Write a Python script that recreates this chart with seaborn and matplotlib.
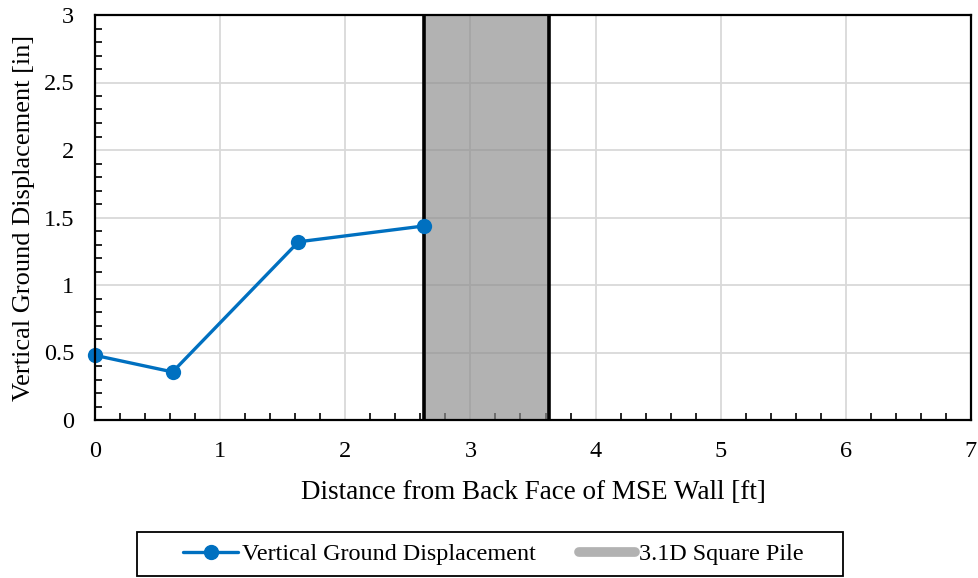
import numpy as np
import pandas as pd
import seaborn as sns
import matplotlib.pyplot as plt
from matplotlib.ticker import MultipleLocator
from matplotlib.lines import Line2D
from matplotlib.patches import Rectangle

# data
distance_ft = [0.0, 0.62, 1.626, 2.626]
displacement_in = [0.479, 0.356, 1.32, 1.437]
pile_left = 2.626
pile_right = 3.626

df = pd.DataFrame({"Distance": distance_ft, "Displacement": displacement_in})

sns.set_theme(style="whitegrid")
plt.rcParams['font.family'] = ['Liberation Serif', 'DejaVu Serif']
plt.rcParams['text.color'] = 'black'
plt.rcParams['axes.labelcolor'] = 'black'

blue = "#0070C0"
grey = "#b2b2b2"

fig = plt.figure(figsize=(9.79, 5.78), dpi=100)
ax = fig.add_axes([95 / 979, 1 - 420 / 578, (971 - 95) / 979, (420 - 15) / 578])

# pile band (semi transparent so the grid shows through a bit darker)
ax.axvspan(pile_left, pile_right, color="#8e8e8e", alpha=0.684, zorder=1.5, lw=0)
ax.axvline(pile_left, color="black", lw=2.6, zorder=3)
ax.axvline(pile_right, color="black", lw=2.6, zorder=3)

sns.lineplot(data=df, x="Distance", y="Displacement", ax=ax, color=blue,
             lw=2.4, marker="o", markersize=11, markeredgewidth=0, zorder=4,
             clip_on=False)

ax.set_xlim(0, 7)
ax.set_ylim(0, 3)
ax.xaxis.set_major_locator(MultipleLocator(1))
ax.xaxis.set_minor_locator(MultipleLocator(0.2))
ax.yaxis.set_minor_locator(MultipleLocator(0.1))
ax.set_yticks([0, 0.5, 1, 1.5, 2, 2.5, 3])
ax.set_yticklabels(["0", "0.5", "1", "1.5", "2", "2.5", "3"])

ax.grid(True, which="major", color="#d9d9d9", lw=1.3)
ax.grid(False, which="minor")
ax.set_axisbelow(True)

for s in ax.spines.values():
    s.set_visible(True)
    s.set_color("black")
    s.set_linewidth(1.6)
    s.set_zorder(5)

ax.tick_params(axis="both", which="major", direction="in", length=0,
               labelsize=17.5, labelcolor="black")
ax.tick_params(axis="y", which="major", pad=15)
ax.tick_params(axis="x", which="major", pad=15)
ax.tick_params(axis="x", which="minor", direction="in", length=5, width=1.2,
               color="black", bottom=True)
ax.tick_params(axis="y", which="minor", direction="in", length=5, width=1.2,
               color="black", left=True)

ax.set_xlabel("Distance from Back Face of MSE Wall [ft]", fontsize=19.5, labelpad=13)
ax.set_ylabel("Vertical Ground Displacement [in]", fontsize=19, labelpad=6)

handles = [
    Line2D([0], [0], color=blue, lw=2.4, marker="o", markersize=10),
    Line2D([0], [0], color=grey, lw=7, solid_capstyle="round"),
]
leg = fig.legend(handles, ["Vertical Ground Displacement", "3.1D Square Pile"],
                 loc="center", bbox_to_anchor=(493 / 979, 1 - 554 / 578), ncol=2,
                 fontsize=17.4, frameon=False,
                 handlelength=2.3, handletextpad=0.15, columnspacing=1.8,
                 borderpad=0.45, borderaxespad=0)

# legend frame, wider than the entries like in the reference
fig.patches.append(Rectangle((137 / 979, 1 - 576 / 578), 706 / 979, 44 / 578,
                             transform=fig.transFigure, fill=False,
                             edgecolor="black", lw=1.3))

fig.savefig("out.png", dpi=100)
